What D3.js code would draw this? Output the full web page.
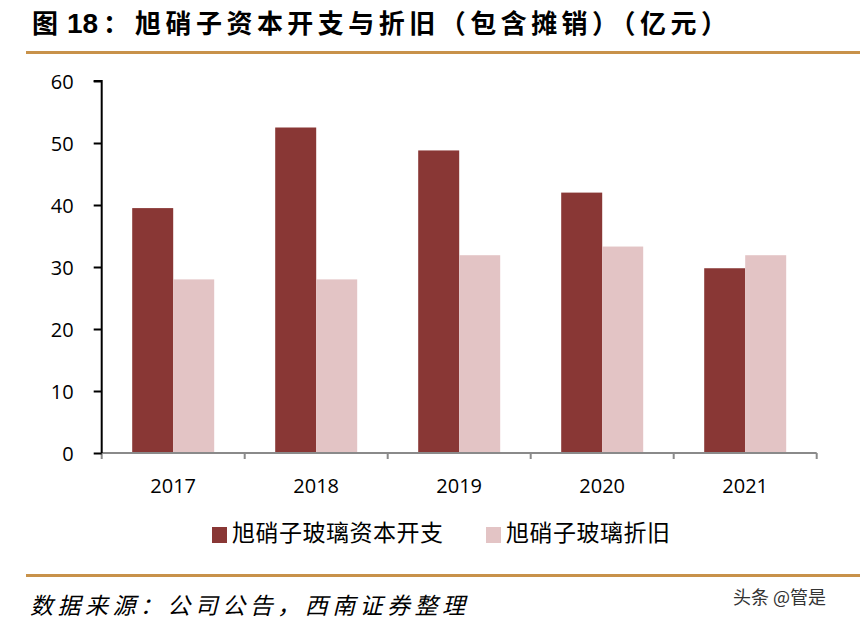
<!DOCTYPE html>
<html><head><meta charset="utf-8">
<script src="https://cdn.jsdelivr.net/npm/d3@7"></script>
<style>body{margin:0;background:#fff}svg{display:block}</style>
</head><body>
<script>
const categories = ["2017","2018","2019","2020","2021"];
const seriesNames = ["旭硝子玻璃资本开支","旭硝子玻璃折旧"];
const capex = [39.5, 52.5, 48.8, 42.0, 29.8];
const depreciation = [28.0, 28.0, 31.9, 33.3, 31.9];
const yTicks = [0,10,20,30,40,50,60];
const colors = ["#893735","#E3C4C5"];

const W = 864, H = 626;
const svg = d3.select("body").append("svg").attr("width",W).attr("height",H);

// title
const tFont = "'Noto Sans CJK SC'";
svg.append("text").attr("x",32).attr("y",33).attr("font-family",tFont).attr("font-weight","bold")
  .attr("font-size",26).attr("fill","#000").text("图");
svg.append("text").attr("x",67).attr("y",33).attr("font-family","'Liberation Sans'").attr("font-weight","bold")
  .attr("font-size",28).attr("fill","#000").text("18");
svg.append("text").attr("x",103).attr("y",33).attr("font-family",tFont).attr("font-weight","bold")
  .attr("font-size",26).attr("fill","#000").text("：");
svg.append("text").attr("x",135).attr("y",33).attr("font-family",tFont).attr("font-weight","bold")
  .attr("font-size",26).attr("fill","#000").attr("textLength",592).attr("lengthAdjust","spacing")
  .text("旭硝子资本开支与折旧（包含摊销）（亿元）");
svg.append("rect").attr("x",26).attr("y",51).attr("width",834).attr("height",3).attr("fill","#C8924A");

const x0 = d3.scaleBand().domain(categories).range([101.7,816.7]).paddingInner(0).paddingOuter(0);
const x1 = d3.scaleBand().domain(["capex","dep"]).range([0,x0.bandwidth()]).paddingInner(0).paddingOuter(0.744);
const y = d3.scaleLinear().domain([0,60]).range([453,81]);

const data = categories.map((c,i)=>({cat:c, vals:[{k:"capex",v:capex[i]},{k:"dep",v:depreciation[i]}]}));

const g = svg.append("g");
g.selectAll("g.grp").data(data).join("g").attr("class","grp")
  .attr("transform",d=>`translate(${x0(d.cat)},0)`)
  .selectAll("rect").data(d=>d.vals).join("rect")
  .attr("x",d=>x1(d.k)).attr("width",x1.bandwidth())
  .attr("y",d=>y(d.v)).attr("height",d=>y(0)-y(d.v))
  .attr("fill",(d,i)=>colors[i]);

// x axis
const xa = svg.append("g");
xa.append("line").attr("x1",x0.range()[0]).attr("x2",x0.range()[1]).attr("y1",y(0)).attr("y2",y(0))
  .attr("stroke","#8a8a8a").attr("stroke-width",2);
const bounds = categories.map(c=>x0(c)).concat([x0.range()[1]]);
xa.selectAll("line.tk").data(bounds).join("line").attr("class","tk")
  .attr("x1",d=>d).attr("x2",d=>d).attr("y1",y(0)).attr("y2",y(0)+6)
  .attr("stroke","#8a8a8a").attr("stroke-width",2);
xa.selectAll("text").data(categories).join("text")
  .attr("x",d=>x0(d)+x0.bandwidth()/2).attr("y",493).attr("text-anchor","middle")
  .attr("font-family","'Open Sans'").attr("font-size",20).attr("fill","#000").text(d=>d);

// y axis
const yAxis = d3.axisLeft(y).tickValues(yTicks).tickSize(8).tickPadding(20);
const ya = svg.append("g").attr("transform","translate(101.7,0)").call(yAxis);
ya.select(".domain").attr("stroke","#000").attr("stroke-width",2).attr("d",`M-8,${y(60)}H0V${y(0)}`);
ya.selectAll(".tick line").attr("stroke","#000").attr("stroke-width",2);
ya.selectAll(".tick text").attr("font-family","'Open Sans'").attr("font-size",20).attr("fill","#000").attr("dy","0.35em");

// legend
const legX = [212, 486];
const legLen = [211, 164];
seriesNames.forEach((n,i)=>{
  svg.append("rect").attr("x",legX[i]).attr("y",527).attr("width",15).attr("height",16).attr("fill",colors[i]);
  svg.append("text").attr("x",legX[i]+20).attr("y",541).attr("font-family","'Noto Sans CJK SC'")
    .attr("font-size",23).attr("fill","#000").attr("textLength",legLen[i]).attr("lengthAdjust","spacing").text(n);
});

// footer
svg.append("rect").attr("x",26).attr("y",574).attr("width",834).attr("height",3).attr("fill","#C8924A");
svg.append("text").attr("x",30).attr("y",614).attr("font-family","'Noto Sans CJK SC'").attr("font-style","italic")
  .attr("font-size",23).attr("fill","#000").attr("textLength",435).text("数据来源：公司公告，西南证券整理");
svg.append("text").attr("x",733).attr("y",604).attr("font-family","'Noto Sans CJK SC'")
  .attr("font-size",18).attr("fill","#333").text("头条 @管是");
</script>
</body></html>
